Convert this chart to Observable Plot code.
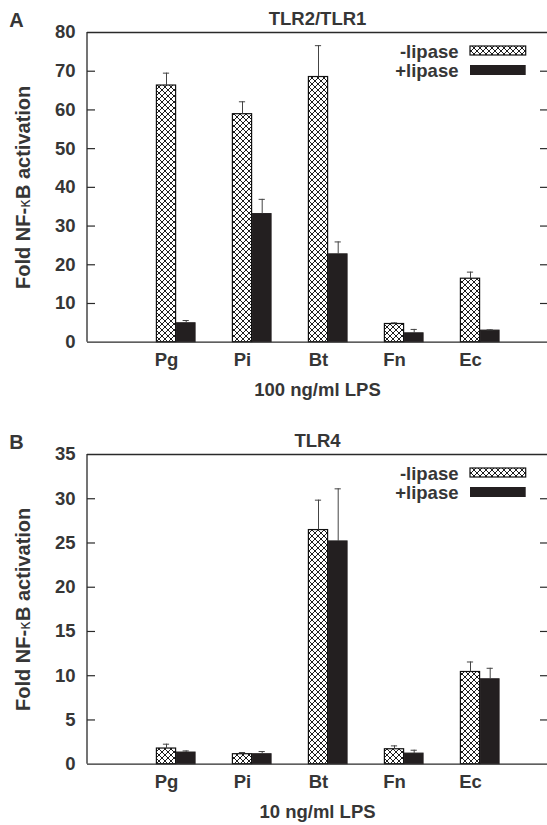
<!DOCTYPE html>
<html><head><meta charset="utf-8">
<script src="https://cdn.jsdelivr.net/npm/d3@7"></script>
<script src="https://cdn.jsdelivr.net/npm/@observablehq/plot@0.6"></script>
<style>
body{margin:0;background:#fff;}
svg.defs{position:absolute;width:0;height:0;}
#chart svg{display:block;}
</style>
</head><body>
<svg class="defs" width="0" height="0"><defs>
<pattern id="xhatch" patternUnits="userSpaceOnUse" width="6" height="6">
<rect width="6" height="6" fill="#fff"/>
<path d="M0,0L6,6M6,0L0,6" stroke="#1e1e1e" stroke-width="1"/>
</pattern></defs></svg>
<div id="chart"></div>
<script>
const categories = ["Pg", "Pi", "Bt", "Fn", "Ec"];
const legendLabels = ["-lipase", "+lipase"];
const yLabel = "Fold NF-κB activation";

// Panel A: TLR2/TLR1, 100 ng/ml LPS
const tlr2Minus    = [66.3, 58.9, 68.5, 4.7, 16.4];
const tlr2MinusErr = [3.2, 3.2, 8.1, 0.3, 1.7];
const tlr2Plus     = [4.9, 33.1, 22.7, 2.3, 3.0];
const tlr2PlusErr  = [0.7, 3.8, 3.2, 1.0, 0.2];

// Panel B: TLR4, 10 ng/ml LPS
const tlr4Minus    = [1.77, 1.13, 26.46, 1.69, 10.42];
const tlr4MinusErr = [0.49, 0.19, 3.38, 0.38, 1.13];
const tlr4Plus     = [1.32, 1.13, 25.18, 1.2, 9.6];
const tlr4PlusErr  = [0.18, 0.3, 5.94, 0.38, 1.24];

const W = 547, ML = 87, MT = 32, FH = 309.7, FW = W - ML;
const ink = "#2a2a2a", txt = "#363636";

function panel({letter, title, xLabel, yMax, yStep, minus, minusErr, plus, plusErr, height}) {
  const rows = categories.map((c, i) => ({
    cat: c, minus: minus[i], minusTop: minus[i] + minusErr[i],
    plus: plus[i], plusTop: plus[i] + plusErr[i]
  }));
  const yTicks = d3.range(0, yMax + yStep / 2, yStep);
  const inner = yTicks.filter(t => t > 0 && t < yMax);
  const svg = Plot.plot({
    width: W, height,
    marginLeft: ML, marginRight: 0, marginTop: MT, marginBottom: height - MT - FH,
    style: {fontFamily: "'Liberation Sans', Arial, sans-serif", fontWeight: "bold", fontSize: "18.5px", color: txt, background: "white"},
    x: {type: "band", domain: categories, range: [125.9, 509.9], padding: 0},
    y: {domain: [0, yMax]},
    marks: [
      Plot.barY(rows, {x: "cat", y: "minus", fill: "url(#xhatch)", stroke: "#111", strokeWidth: 1.2, insetLeft: 28.4, insetRight: 28.4}),
      Plot.barY(rows, {x: "cat", y: "plus", fill: "#231f20", stroke: "#231f20", strokeWidth: 1, insetLeft: 48.4, insetRight: 8.9}),
      Plot.ruleX(rows, {x: "cat", y1: "minus", y2: "minusTop", stroke: "#444", strokeWidth: 1}),
      Plot.tickY(rows, {x: "cat", y: "minusTop", stroke: "#444", strokeWidth: 1, insetLeft: 34.9, insetRight: 34.9}),
      Plot.ruleX(rows, {x: "cat", y1: "plus", y2: "plusTop", dx: 19.7, stroke: "#444", strokeWidth: 1}),
      Plot.tickY(rows, {x: "cat", y: "plusTop", stroke: "#444", strokeWidth: 1, insetLeft: 54.6, insetRight: 15.2}),
      // frame
      Plot.ruleY([0, yMax], {stroke: ink, strokeWidth: 1.3}),
      Plot.rect([0], {fill: ink, insetLeft: -0.65, insetRight: FW - 0.65}),
      Plot.tickY(inner, {y: d => d, stroke: ink, strokeWidth: 1.2, insetRight: FW - 8}),
      Plot.tickY(inner, {y: d => d, stroke: ink, strokeWidth: 1.2, insetLeft: FW - 7}),
      // axes
      Plot.axisY({ticks: yTicks, tickSize: 0, tickPadding: 12, label: null}),
      Plot.axisX({tickSize: 0, tickPadding: 10.5, label: null}),
      // texts
      Plot.text([title], {text: d => d, frameAnchor: "top", dy: -8, lineAnchor: "bottom"}),
      Plot.text([xLabel], {text: d => d, frameAnchor: "bottom", dy: 53.3, lineAnchor: "bottom"}),
      Plot.text([letter], {text: d => d, frameAnchor: "top-left", dx: 8.7 - ML, dy: -6, textAnchor: "start", lineAnchor: "bottom", fontSize: 20}),
      Plot.text([yLabel], {text: d => d, frameAnchor: "left", rotate: -90, dx: 29.8 - ML, textAnchor: "middle", lineAnchor: "bottom", fontSize: 20}),
      // legend
      Plot.text([legendLabels[0]], {text: d => d, frameAnchor: "top-right", dx: 458 - W, dy: 25.3, textAnchor: "end", lineAnchor: "bottom"}),
      Plot.text([legendLabels[1]], {text: d => d, frameAnchor: "top-right", dx: 458 - W, dy: 44.7, textAnchor: "end", lineAnchor: "bottom"}),
      Plot.rect([legendLabels[0]], {fill: "url(#xhatch)", stroke: "#111", strokeWidth: 1.2, insetLeft: 470 - ML, insetRight: W - 525.7, insetTop: 46 - MT, insetBottom: MT + FH - 55}),
      Plot.rect([legendLabels[1]], {fill: "#231f20", insetLeft: 470 - ML, insetRight: W - 525.7, insetTop: 65 - MT, insetBottom: MT + FH - 75})
    ]
  });
  // smaller kappa in the y label
  d3.select(svg).selectAll("text").filter(function () { return this.textContent === yLabel; })
    .each(function () {
      const t = d3.select(this);
      t.text(null);
      t.append("tspan").text("Fold NF-");
      t.append("tspan").text("κ").attr("font-size", 15).attr("font-weight", "normal").attr("font-family", "'DejaVu Sans', sans-serif");
      t.append("tspan").text("B activation");
    });
  return svg;
}

const chart = document.getElementById("chart");
chart.append(panel({letter: "A", title: "TLR2/TLR1", xLabel: "100 ng/ml LPS", yMax: 80, yStep: 10,
  minus: tlr2Minus, minusErr: tlr2MinusErr, plus: tlr2Plus, plusErr: tlr2PlusErr, height: 422}));
chart.append(panel({letter: "B", title: "TLR4", xLabel: "10 ng/ml LPS", yMax: 35, yStep: 5,
  minus: tlr4Minus, minusErr: tlr4MinusErr, plus: tlr4Plus, plusErr: tlr4PlusErr, height: 403}));
</script>
</body></html>
